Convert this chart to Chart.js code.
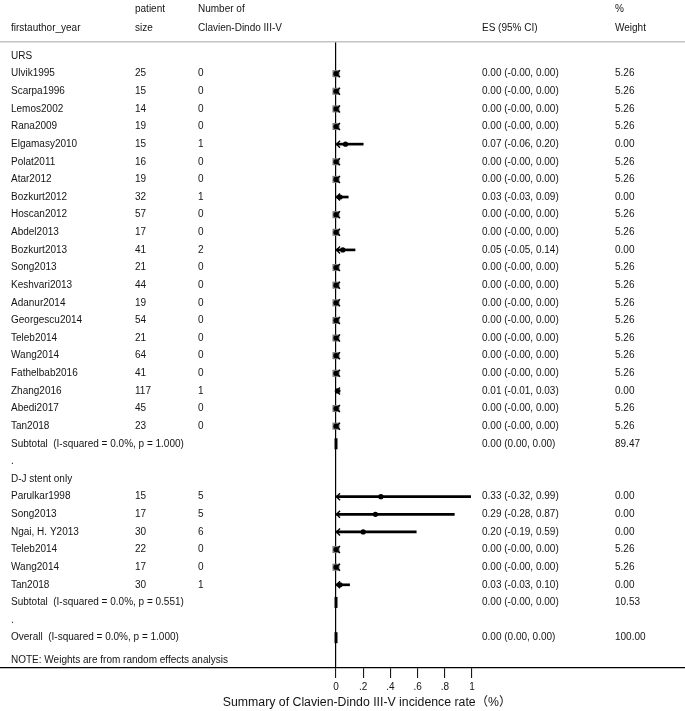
<!DOCTYPE html>
<html>
<head>
<meta charset="utf-8">
<script src="https://cdn.jsdelivr.net/npm/chart.js@4.4.1/dist/chart.umd.min.js"></script>
<style>
  html, body { margin: 0; padding: 0; background: #fff; }
  #wrap { width: 685px; height: 711px; position: relative; }
</style>
</head>
<body>
<div id="wrap"><canvas id="forest"></canvas></div>
<script>
// ── Data (one entry per row, top to bottom) ──
const rowLabels = [
  'URS',
  'Ulvik1995', 'Scarpa1996', 'Lemos2002', 'Rana2009', 'Elgamasy2010', 'Polat2011', 'Atar2012',
  'Bozkurt2012', 'Hoscan2012', 'Abdel2013', 'Bozkurt2013', 'Song2013', 'Keshvari2013', 'Adanur2014',
  'Georgescu2014', 'Teleb2014', 'Wang2014', 'Fathelbab2016', 'Zhang2016', 'Abedi2017', 'Tan2018',
  'Subtotal  (I-squared = 0.0%, p = 1.000)',
  '.',
  'D-J stent only',
  'Parulkar1998', 'Song2013', 'Ngai, H. Y2013', 'Teleb2014', 'Wang2014', 'Tan2018',
  'Subtotal  (I-squared = 0.0%, p = 0.551)',
  '.',
  'Overall  (I-squared = 0.0%, p = 1.000)',
];
const rowType = [
  'group',
  'study', 'study', 'study', 'study', 'study', 'study', 'study',
  'study', 'study', 'study', 'study', 'study', 'study', 'study',
  'study', 'study', 'study', 'study', 'study', 'study', 'study',
  'pooled', 'blank', 'group',
  'study', 'study', 'study', 'study', 'study', 'study',
  'pooled', 'blank', 'pooled',
];
const patientSize = [
  '', '25', '15', '14', '19', '15', '16', '19', '32', '57', '17', '41', '21', '44', '19',
  '54', '21', '64', '41', '117', '45', '23', '', '', '',
  '15', '17', '30', '22', '17', '30', '', '', '',
];
const eventCount = [
  '', '0', '0', '0', '0', '1', '0', '0', '1', '0', '0', '2', '0', '0', '0',
  '0', '0', '0', '0', '1', '0', '0', '', '', '',
  '5', '5', '6', '0', '0', '1', '', '', '',
];
const esValue = [
  null, 0, 0, 0, 0, 0.07, 0, 0, 0.03, 0, 0, 0.05, 0, 0, 0,
  0, 0, 0, 0, 0.01, 0, 0, 0, null, null,
  0.33, 0.29, 0.20, 0, 0, 0.03, 0, null, 0,
];
const ciLower = [
  null, -0.00, -0.00, -0.00, -0.00, -0.06, -0.00, -0.00, -0.03, -0.00, -0.00, -0.05, -0.00, -0.00, -0.00,
  -0.00, -0.00, -0.00, -0.00, -0.01, -0.00, -0.00, 0.00, null, null,
  -0.32, -0.28, -0.19, -0.00, -0.00, -0.03, -0.00, null, 0.00,
];
const ciUpper = [
  null, 0, 0, 0, 0, 0.20, 0, 0, 0.09, 0, 0, 0.14, 0, 0, 0,
  0, 0, 0, 0, 0.03, 0, 0, 0, null, null,
  0.99, 0.87, 0.59, 0, 0, 0.10, 0, null, 0,
];
const esText = [
  '',
  '0.00 (-0.00, 0.00)', '0.00 (-0.00, 0.00)', '0.00 (-0.00, 0.00)', '0.00 (-0.00, 0.00)',
  '0.07 (-0.06, 0.20)', '0.00 (-0.00, 0.00)', '0.00 (-0.00, 0.00)', '0.03 (-0.03, 0.09)',
  '0.00 (-0.00, 0.00)', '0.00 (-0.00, 0.00)', '0.05 (-0.05, 0.14)', '0.00 (-0.00, 0.00)',
  '0.00 (-0.00, 0.00)', '0.00 (-0.00, 0.00)', '0.00 (-0.00, 0.00)', '0.00 (-0.00, 0.00)',
  '0.00 (-0.00, 0.00)', '0.00 (-0.00, 0.00)', '0.01 (-0.01, 0.03)', '0.00 (-0.00, 0.00)',
  '0.00 (-0.00, 0.00)',
  '0.00 (0.00, 0.00)', '', '',
  '0.33 (-0.32, 0.99)', '0.29 (-0.28, 0.87)', '0.20 (-0.19, 0.59)', '0.00 (-0.00, 0.00)',
  '0.00 (-0.00, 0.00)', '0.03 (-0.03, 0.10)',
  '0.00 (-0.00, 0.00)', '',
  '0.00 (0.00, 0.00)',
];
const weightPct = [
  null, 5.26, 5.26, 5.26, 5.26, 0.00, 5.26, 5.26, 0.00, 5.26, 5.26, 0.00, 5.26, 5.26, 5.26,
  5.26, 5.26, 5.26, 5.26, 0.00, 5.26, 5.26, 89.47, null, null,
  0.00, 0.00, 0.00, 5.26, 5.26, 0.00, 10.53, null, 100.00,
];
const headerTop    = ['', 'patient', 'Number of', '', '%'];
const headerBottom = ['firstauthor_year', 'size', 'Clavien-Dindo III-V', 'ES (95% CI)', 'Weight'];
const xTicks      = [0, 0.2, 0.4, 0.6, 0.8, 1];
const xTickLabels = ['0', '.2', '.4', '.6', '.8', '1'];
const axisTitle = 'Summary of Clavien-Dindo III-V incidence rate（%）';
const noteText  = 'NOTE: Weights are from random effects analysis';

// ── Layout ──
const X_START = 0;             // left end of the plotted range (CI clipped here)
const X_MIN = -336 / 136, X_MAX = 349 / 136;
const Y_MIN = -0.795, Y_MAX = 34.72;
const COL_X = [11, 135, 198, 482, 615];
const FONT = '"Liberation Sans", Arial, Helvetica, sans-serif';
const INK = '#141414';

const rows = rowLabels.map((_, i) => i);
const studyRows = rows.filter(i => rowType[i] === 'study');

const boxData  = studyRows.filter(i => weightPct[i] > 0).map(i => ({ x: esValue[i], y: i }));
const dotData  = studyRows.map(i => ({ x: esValue[i], y: i }));
const ciData   = studyRows.filter(i => ciUpper[i] > X_START)
                          .map(i => ({ x: [Math.max(ciLower[i], X_START), ciUpper[i]], y: i }));
const poolData = rows.filter(i => rowType[i] === 'pooled').map(i => ({ x: esValue[i], y: i }));

// ── Texts, arrows ──
const forestText = {
  id: 'forestText',
  afterDatasetsDraw(chart) {
    const { ctx, scales: { x, y } } = chart;
    ctx.save();
    ctx.strokeStyle = '#000';
    ctx.lineWidth = 1.4;
    studyRows.filter(i => ciLower[i] <= X_START).forEach(i => {
      const px = x.getPixelForValue(X_START), py = y.getPixelForValue(i);
      ctx.beginPath();
      ctx.moveTo(px + 4, py - 3.5);
      ctx.lineTo(px + 0.5, py);
      ctx.lineTo(px + 4, py + 3.5);
      ctx.stroke();
    });
    ctx.restore();
  },
  afterDraw(chart) {
    const { ctx, chartArea, scales: { y } } = chart;
    ctx.save();
    ctx.fillStyle = INK;
    ctx.textBaseline = 'middle';
    ctx.textAlign = 'left';
    ctx.font = '10px ' + FONT;

    headerTop.forEach((t, c) => ctx.fillText(t, COL_X[c], 9));
    headerBottom.forEach((t, c) => ctx.fillText(t, COL_X[c], 28));

    rows.forEach(i => {
      const py = y.getPixelForValue(i);
      ctx.fillText(rowLabels[i], COL_X[0], py);
      ctx.fillText(patientSize[i], COL_X[1], py);
      ctx.fillText(eventCount[i], COL_X[2], py);
      ctx.fillText(esText[i], COL_X[3], py);
      if (weightPct[i] !== null) ctx.fillText(weightPct[i].toFixed(2), COL_X[4], py);
    });

    ctx.fillText(noteText, COL_X[0], chartArea.bottom - 8);

    ctx.textAlign = 'center';
    ctx.font = '12.3px ' + FONT + ', "Noto Sans CJK SC"';
    ctx.fillText(axisTitle, 367, 703);
    ctx.restore();
  },
};

new Chart(document.getElementById('forest'), {
  type: 'scatter',
  data: {
    datasets: [
      {
        data: dotData, order: 0,
        pointStyle: 'circle', pointRadius: 2.6, pointHoverRadius: 2.6,
        backgroundColor: '#000', borderColor: '#000', borderWidth: 0,
      },
      {
        data: poolData, order: 0,
        pointStyle: 'line', rotation: 90, pointRadius: 5.5, pointHoverRadius: 5.5,
        borderColor: '#000', borderWidth: 3,
      },
      {
        type: 'bar', indexAxis: 'y', data: ciData, order: 1,
        backgroundColor: '#000', borderWidth: 0, barThickness: 2,
      },
      {
        data: boxData, order: 2,
        pointStyle: 'rect', pointRadius: 5, pointHoverRadius: 5,
        backgroundColor: '#7c7c7c', borderWidth: 0,
      },
    ],
  },
  options: {
    responsive: true,
    maintainAspectRatio: false,
    animation: false,
    events: [],
    layout: { autoPadding: false, padding: { top: 42, bottom: 15, left: 0, right: 0 } },
    plugins: { legend: { display: false }, tooltip: { enabled: false } },
    scales: {
      x: {
        type: 'linear', position: 'bottom', min: X_MIN, max: X_MAX, offset: false,
        afterBuildTicks: s => { s.ticks = xTicks.map(v => ({ value: v })); },
        ticks: {
          color: INK, padding: 3, maxRotation: 0, autoSkip: false,
          font: { family: FONT, size: 10 },
          callback: (v, i) => xTickLabels[i],
        },
        grid: {
          offset: false, drawTicks: true, tickLength: 10, tickColor: '#000', tickWidth: 1,
          color: c => (c.tick && c.tick.value === 0 ? '#000' : 'rgba(0,0,0,0)'),
          lineWidth: 1.2,
        },
        border: { display: true, color: '#000', width: 1.2 },
      },
      x2: {
        type: 'linear', position: 'top', axis: 'x', min: X_MIN, max: X_MAX, offset: false,
        ticks: { display: false },
        grid: { display: false, drawTicks: false },
        border: { display: true, color: '#c4c4c4', width: 1.5 },
      },
      y: {
        type: 'linear', display: false, reverse: true, min: Y_MIN, max: Y_MAX,
        offset: false, grid: { offset: false },
      },
    },
  },
  plugins: [forestText],
});
</script>
</body>
</html>
